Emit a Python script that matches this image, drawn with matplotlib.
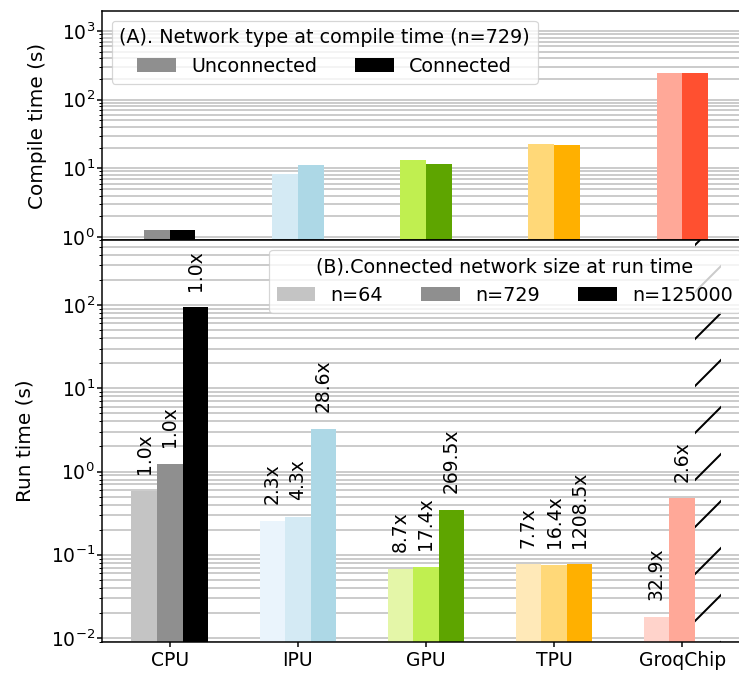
import matplotlib
matplotlib.use('Agg')
import matplotlib.pyplot as plt
import numpy as np

DPI = 141
PX = 72.0 / DPI  # points per output pixel

# ---------------- data ----------------
devices = ['CPU', 'IPU', 'GPU', 'TPU', 'GroqChip']

compile_unconnected = [1.26, 8.4, 13.3, 22.4, 246]
compile_connected = [1.26, 11.2, 11.6, 21.9, 246]

run_n64 = [0.59, 0.257, 0.0678, 0.0766, 0.0179]
run_n729 = [1.24, 0.288, 0.0713, 0.0756, 0.477]
run_n125000 = [93.5, 3.27, 0.347, 0.0774, np.nan]   # GroqChip: not available

speedup_n64 = ['1.0x', '2.3x', '8.7x', '7.7x', '32.9x']
speedup_n729 = ['1.0x', '4.3x', '17.4x', '16.4x', '2.6x']
speedup_n125000 = ['1.0x', '28.6x', '269.5x', '1208.5x', '']

colors_light = ['#c4c4c4', '#eaf4fc', '#e4f6a8', '#ffe9b8', '#ffd3cb']
colors_mid = ['#8f8f8f', '#d4eaf4', '#c0ef50', '#ffd878', '#ffa898']
colors_dark = ['#000000', '#add8e6', '#5ea500', '#ffb000', '#ff5030']

compile_ylim = (0.904, 1954)
run_ylim = (0.00895, 604)

# ---------------- style ----------------
FS = 18.8 * PX
FS_LEG = 19.2 * PX
FS_LAB = 20.0 * PX
plt.rcParams['font.family'] = ['DejaVu Sans']
plt.rcParams['font.size'] = FS
plt.rcParams['hatch.linewidth'] = 2.0 * PX
plt.rcParams['axes.linewidth'] = 1.5 * PX

fig = plt.figure(figsize=(739 / DPI, 676 / DPI), dpi=DPI)
W, H = 739.0, 676.0
left_px, right_px = 102.0, 750.0
ax_top = fig.add_axes([left_px / W, (H - 240) / H, (right_px - left_px) / W, 229 / H])
ax_bot = fig.add_axes([left_px / W, (H - 642) / H, (right_px - left_px) / W, 402 / H],
                      sharex=ax_top)

x = np.arange(len(devices))
bw = 0.2

# ---- top: compile time ----
ax_top.bar(x - bw / 2, compile_unconnected, bw, color=colors_mid, linewidth=0,
           label='Unconnected')
ax_top.bar(x + bw / 2, compile_connected, bw, color=colors_dark, linewidth=0,
           label='Connected')
ax_top.set_yscale('log')
ax_top.set_ylim(*compile_ylim)
ax_top.set_ylabel('Compile time (s)', fontsize=FS_LAB, labelpad=14 * PX)

# ---- bottom: run time ----
series = [(run_n64, colors_light, 'n=64', speedup_n64, -bw),
          (run_n729, colors_mid, 'n=729', speedup_n729, 0.0),
          (run_n125000, colors_dark, 'n=125000', speedup_n125000, bw)]
for vals, cols, lab, sp, off in series:
    vals = np.asarray(vals, dtype=float)
    ax_bot.bar(x + off, np.nan_to_num(vals, nan=0.0), bw, color=cols, linewidth=0,
               label=lab)
    for xi, v, s in zip(x + off, vals, sp):
        if np.isfinite(v) and s:
            ax_bot.annotate(s, xy=(xi, v), xytext=(0, 16.5 * PX),
                            textcoords='offset points', rotation=90,
                            ha='center', va='bottom', fontsize=FS)
    # unavailable measurements drawn as hatched, unfilled bars
    missing = ~np.isfinite(vals)
    if missing.any():
        ax_bot.bar((x + off)[missing], run_ylim[1] * 10, bw, facecolor='none',
                   edgecolor='black', linewidth=0, hatch='/')

ax_bot.set_yscale('log')
ax_bot.set_ylim(*run_ylim)
ax_bot.set_ylabel('Run time (s)', fontsize=FS_LAB, labelpad=16 * PX)
ax_bot.set_xticks(x)
ax_bot.set_xticklabels(devices)
ax_top.set_xlim(-0.53, 4.53)

for ax in (ax_top, ax_bot):
    ax.set_axisbelow(True)
    ax.grid(True, which='both', axis='y', color='#cccccc', linewidth=2.0 * PX)
    ax.tick_params(axis='both', which='major', length=5 * PX, width=1.5 * PX,
                   pad=2 * PX, labelsize=FS)
    ax.tick_params(axis='both', which='minor', length=3 * PX, width=1.0 * PX)
    for sp in ax.spines.values():
        sp.set_color('black')
ax_bot.tick_params(axis='x', which='major', pad=4.5 * PX)
ax_top.tick_params(axis='x', which='both', bottom=False, labelbottom=False)

leg_a = ax_top.legend(title='(A). Network type at compile time (n=729)', loc='upper left',
                      ncol=2, fontsize=FS_LEG, title_fontsize=FS_LEG)
leg_b = ax_bot.legend(title='(B).Connected network size at run time', loc='upper right',
                      ncol=3, fontsize=FS_LEG, title_fontsize=FS_LEG)
for lg in (leg_a, leg_b):
    lg.get_frame().set_linewidth(1.2 * PX)

fig.savefig('out.png', dpi=DPI)
